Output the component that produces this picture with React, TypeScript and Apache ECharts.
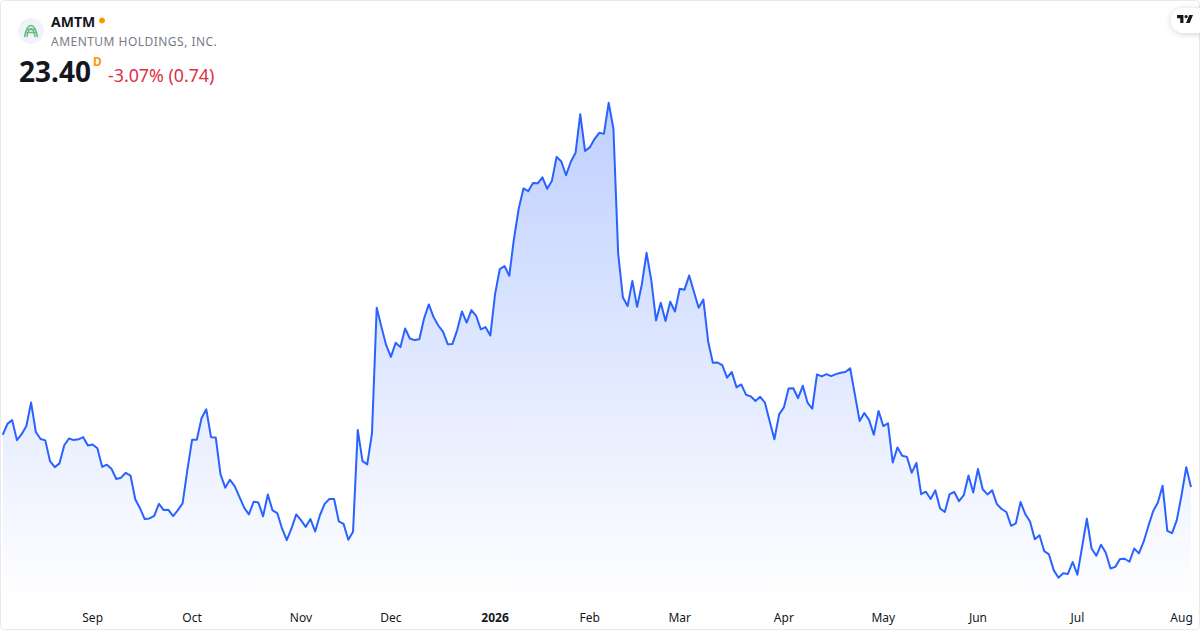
import React, { useEffect, useRef } from "react";
import * as echarts from "echarts";

// Closing prices, one list per stretch of the year
const pricesAugOct = [
  25.33, 25.74, 25.88, 25.14, 25.36, 25.66, 26.53, 25.44, 25.18, 25.13, 24.36, 24.14, 24.28, 24.95, 25.2, 25.14, 25.17, 25.25, 24.94,
  24.98, 24.84, 24.15, 24.23, 24.07, 23.7, 23.75, 23.93, 23.83, 22.95, 22.62, 22.22, 22.24, 22.34, 22.78, 22.55, 22.56, 22.33, 22.55, 22.8, 24.03,
  25.15, 25.15, 25.95, 26.28, 25.25, 25.24, 23.88, 23.38, 23.67, 23.44, 23.04, 22.64, 22.39, 22.86, 22.83, 22.32, 23.13, 22.54, 22.44, 21.87, 21.44, 21.87, 22.39,
];
const pricesNovDec = [
  22.18, 21.93, 22.22, 21.76, 22.36, 22.78, 22.96, 22.96, 22.13, 22.04, 21.45, 21.75, 25.51, 24.36, 24.24, 25.39, 30.04, 29.33, 28.65,
  28.22, 28.74, 28.58, 29.27, 28.9, 28.84, 28.87, 29.64, 30.16, 29.7, 29.38, 29.15, 28.69, 28.7, 29.21, 29.9, 29.49, 29.95, 29.74, 29.24, 29.32, 29.01,
];
const pricesJanMar = [
  30.54, 31.47, 31.58, 31.22, 32.6, 33.71, 34.45, 34.35, 34.65, 34.64, 34.86, 34.44, 34.73, 35.62, 35.45, 34.94, 35.44, 35.77, 37.2, 35.84,
  35.97, 36.28, 36.51, 36.47, 37.62, 36.67, 32.05, 30.42, 30.1, 31.03, 30.07, 30.9, 32.07, 31.06, 29.57, 30.22, 29.55, 30.26, 29.9,
  30.74, 30.7, 31.23, 30.63, 30.04, 30.34, 28.8, 28.0, 28.01, 27.91, 27.45, 27.66, 27.09, 27.2, 26.82, 26.76, 26.59, 26.74, 26.53, 25.84, 25.17, 26.09,
];
const pricesAprJun = [
  26.35, 27.05, 27.06, 26.69, 27.15, 26.53, 26.3, 27.57, 27.5, 27.58, 27.51, 27.58, 27.63, 27.66, 27.8, 26.83, 25.85, 26.14, 25.89, 25.34, 26.22,
  25.66, 25.76, 24.31, 24.87, 24.56, 24.52, 23.93, 24.3, 23.14, 23.23, 22.96, 23.28, 22.61, 22.48, 23.14, 23.22, 22.88, 23.1, 23.83,
  23.2, 24.07, 23.32, 23.13, 23.28, 22.77, 22.59, 22.48, 21.97, 22.06, 22.85, 22.4, 22.13, 21.47, 21.62, 21.03, 20.91, 20.33, 20.05, 20.21, 20.19,
];
const pricesJulAug = [
  20.63, 20.16, 21.19, 22.23, 21.13, 20.86, 21.27, 20.97, 20.39, 20.45, 20.74, 20.75, 20.64, 21.13, 20.95, 21.38, 21.96, 22.51, 22.83, 23.45, 21.78, 21.7, 22.18,
  23.1, 24.14, 23.4,
];
const prices = [...pricesAugOct, ...pricesNovDec, ...pricesJanMar, ...pricesAprJun, ...pricesJulAug];

// Trading sessions from 5 Aug 2025 to 5 Aug 2026
const firstSession = "2025-08-05";
const marketHolidays = [
  "2025-09-01", "2025-11-27", "2025-12-25", "2026-01-01", "2026-01-19", "2026-02-16", "2026-04-03", "2026-05-25", "2026-06-19", "2026-07-03",
];
const monthNames = ["Jan", "Feb", "Mar", "Apr", "May", "Jun", "Jul", "Aug", "Sep", "Oct", "Nov", "Dec"];

function buildSessions(start: string, count: number): string[] {
  const out: string[] = [];
  const d = new Date(start + "T12:00:00Z");
  while (out.length < count) {
    const iso = d.toISOString().slice(0, 10);
    const wd = d.getUTCDay();
    if (wd !== 0 && wd !== 6 && !marketHolidays.includes(iso)) out.push(iso);
    d.setUTCDate(d.getUTCDate() + 1);
  }
  return out;
}
const sessions = buildSessions(firstSession, prices.length);

function isMonthStart(i: number): boolean {
  return i > 0 && sessions[i].slice(0, 7) !== sessions[i - 1].slice(0, 7);
}

const ticker = "AMTM";
const companyName = "AMENTUM HOLDINGS, INC.";
const lastPrice = "23.40";
const changeText = "-3.07% (0.74)";
const FONT = "'Noto Sans', sans-serif";

const TV_LOGO = "M14 6H2v6h6v9h6V6Zm12 15h-7l6-15h7l-6 15Zm-7-9a3 3 0 1 0 0-6 3 3 0 0 0 0 6Z";
const ARCH_LOGO =
  "M24.5 37C26 29 28 25.5 31 25.5S36 29 37.5 37M26.8 37C28 31 29 28.5 31 28.5S34 31 35.2 37M25.5 32.5H36.5M26.8 29.5H35.2";

export default function App() {
  const ref = useRef<HTMLDivElement>(null);
  useEffect(() => {
    document.body.style.margin = "0";
    echarts.graphic.registerShape("tvLogo", echarts.graphic.extendPath(TV_LOGO as any, {}) as any);
    echarts.graphic.registerShape("archLogo", echarts.graphic.extendPath(ARCH_LOGO as any, {}) as any);
    const chart = echarts.init(ref.current!, undefined, { renderer: "svg" });
    chart.setOption({
      animation: false,
      backgroundColor: "#ffffff",
      grid: { left: 2.7, top: 102, width: 1188.3, height: 500, containLabel: false },
      xAxis: {
        type: "category",
        data: sessions,
        boundaryGap: false,
        axisLine: { show: false },
        axisTick: { show: false },
        splitLine: { show: false },
        axisLabel: {
          interval: (i: number) => isMonthStart(i),
          margin: 9,
          hideOverlap: false,
          fontFamily: FONT,
          fontSize: 12,
          color: "#131722",
          formatter: (v: string) => {
            const year = v.slice(0, 4);
            const m = Number(v.slice(5, 7)) - 1;
            return m === 0 ? `{y|${year}}` : monthNames[m];
          },
          rich: { y: { fontFamily: FONT, fontSize: 12, fontWeight: 700, color: "#131722" } },
        },
      },
      yAxis: { type: "value", min: 19.15, max: 37.65, show: false, splitLine: { show: false } },
      series: [
        {
          type: "line",
          data: prices,
          showSymbol: false,
          symbol: "none",
          smooth: false,
          lineStyle: { color: "#2962ff", width: 2, join: "round" },
          areaStyle: {
            opacity: 1,
            color: new echarts.graphic.LinearGradient(0, 0, 0, 1, [
              { offset: 0, color: "rgba(41,98,255,0.3)" },
              { offset: 1, color: "rgba(41,98,255,0)" },
            ]),
          },
        },
      ],
      graphic: [
        {
          type: "rect",
          z: 10,
          silent: true,
          shape: { x: 0.5, y: 0.5, width: 1199, height: 629, r: 4 },
          style: { fill: "none", stroke: "#e9e9ea", lineWidth: 1 },
        },
        { type: "circle", z: 11, shape: { cx: 31, cy: 31, r: 13 }, style: { fill: "#f0f3fa" } },
        {
          type: "archLogo",
          z: 12,
          x: 0,
          y: 0,
          style: { fill: "none", stroke: "#66bb80", lineWidth: 1.5 },
        },
        {
          type: "text",
          z: 12,
          x: 51,
          y: 21,
          style: { text: ticker, font: `700 14px ${FONT}`, fill: "#131722", textVerticalAlign: "middle" },
        },
        { type: "circle", z: 12, shape: { cx: 102, cy: 20.5, r: 3 }, style: { fill: "#ff9800" } },
        {
          type: "text",
          z: 12,
          x: 51,
          y: 41,
          style: { text: companyName, font: `400 12px ${FONT}`, fill: "#787b86", textVerticalAlign: "middle" },
        },
        {
          type: "text",
          z: 12,
          x: 19,
          y: 71,
          style: { text: lastPrice, font: `700 28px ${FONT}`, fill: "#131722", textVerticalAlign: "middle" },
        },
        {
          type: "text",
          z: 12,
          x: 93,
          y: 61,
          style: { text: "D", font: `700 12px ${FONT}`, fill: "#ff9800", textVerticalAlign: "middle" },
        },
        {
          type: "text",
          z: 12,
          x: 108,
          y: 75,
          style: { text: changeText, font: `400 17.8px ${FONT}`, fill: "#dd3046", textVerticalAlign: "middle" },
        },
        {
          type: "rect",
          z: 11,
          shape: { x: 1171, y: 8, width: 50, height: 25, r: 12.5 },
          style: { fill: "#ffffff", shadowBlur: 6, shadowColor: "rgba(0,0,0,0.18)", shadowOffsetY: 1 },
        },
        {
          type: "tvLogo",
          z: 12,
          x: 1176,
          y: 11.8,
          scaleX: 0.53,
          scaleY: 0.53,
          style: { fill: "#131722" },
        },
      ],
    });
    return () => chart.dispose();
  }, []);
  return (
    <>
      <style>{`text[fill="#787b86"]{letter-spacing:0.47px}`}</style>
      <div ref={ref} style={{ width: 1200, height: 630 }} />
    </>
  );
}
